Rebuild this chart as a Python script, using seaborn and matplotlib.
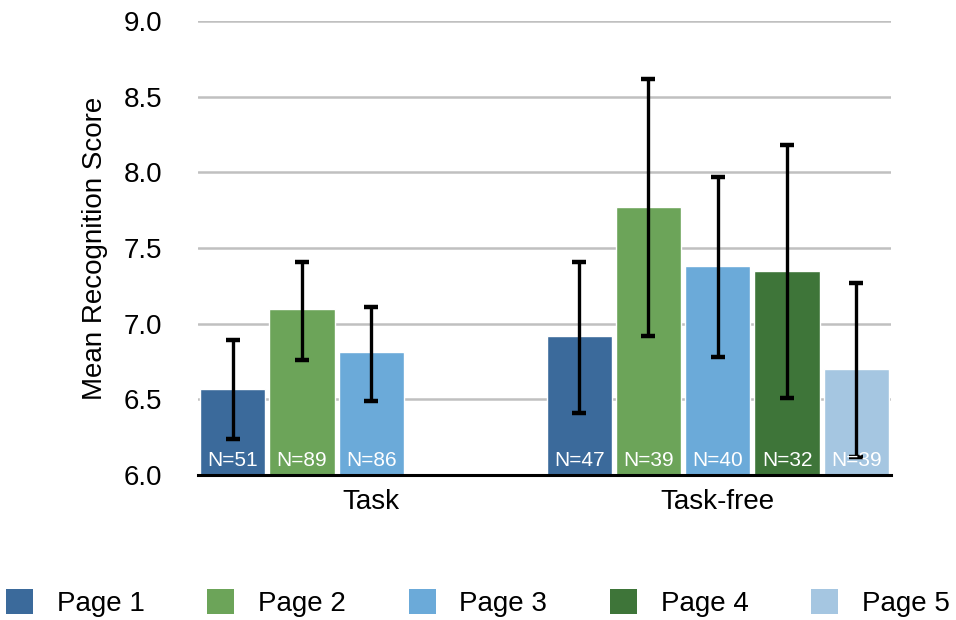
import matplotlib
matplotlib.use("Agg")
import matplotlib.pyplot as plt
import seaborn as sns
import pandas as pd
from matplotlib.patches import Patch

# ---- data ----
groups = ["Task", "Task-free"]
pages = ["Page 1", "Page 2", "Page 3", "Page 4", "Page 5"]
task_means = [6.57, 7.10, 6.81]
task_low = [6.24, 6.76, 6.49]
task_high = [6.89, 7.41, 7.11]
task_n = [51, 89, 86]
free_means = [6.92, 7.77, 7.38, 7.35, 6.70]
free_low = [6.41, 6.92, 6.78, 6.51, 6.12]
free_high = [7.41, 8.62, 7.97, 8.18, 7.27]
free_n = [47, 39, 40, 32, 39]
colors = ["#3B6A9B", "#6CA459", "#6BAAD9", "#3E7539", "#A5C6E1"]
yticks = [6.0, 6.5, 7.0, 7.5, 8.0, 8.5, 9.0]

rows = []
for i, m in enumerate(task_means):
    rows.append(dict(group="Task", page=pages[i], mean=m, low=task_low[i], high=task_high[i], n=task_n[i]))
for i, m in enumerate(free_means):
    rows.append(dict(group="Task-free", page=pages[i], mean=m, low=free_low[i], high=free_high[i], n=free_n[i]))
df = pd.DataFrame(rows)

sns.set_theme(style="white")
plt.rcParams["font.family"] = ["Liberation Sans", "DejaVu Sans"]
plt.rcParams["text.color"] = "black"

fig = plt.figure(figsize=(9.56, 6.2), dpi=100)
ax = fig.add_axes([198 / 956, 1 - 475 / 620, (891 - 198) / 956, (475 - 21) / 620])

sns.barplot(data=df, x="group", y="mean", hue="page", order=groups, hue_order=pages,
            palette=colors, saturation=1, width=1.0, gap=0.06, errorbar=None, legend=False,
            ax=ax, zorder=2)

nh = len(pages)
for _, r in df.iterrows():
    xc = groups.index(r["group"]) + (pages.index(r["page"]) - (nh - 1) / 2) / nh
    ax.errorbar([xc], [r["mean"]], yerr=[[r["mean"] - r["low"]], [r["high"] - r["mean"]]],
                fmt="none", ecolor="black", elinewidth=2.4, capsize=5, capthick=3.2, zorder=4)
    ax.annotate(f"N={r['n']}", xy=(xc, 6.0), xytext=(0, 6.5), textcoords="offset points",
                ha="center", va="baseline", color="white", fontsize=15, zorder=5)

ax.set_ylim(6.0, 9.0)
ax.set_xlim(-0.5, 1.5)
ax.set_yticks(yticks)
ax.set_yticklabels([f"{t:.1f}" for t in yticks])
ax.yaxis.grid(True, color="#c0c0c0", linewidth=1.8, zorder=0)
ax.set_axisbelow(True)
ax.tick_params(axis="y", length=0, pad=26, labelsize=20, colors="black")
ax.tick_params(axis="x", length=0, pad=10, labelsize=20, colors="black")
for s in ["left", "right", "top"]:
    ax.spines[s].set_visible(False)
ax.spines["bottom"].set_color("black")
ax.spines["bottom"].set_linewidth(2.2)
ax.spines["bottom"].set_zorder(6)
ax.set_xlabel("")
ax.set_ylabel("Mean Recognition Score", fontsize=20, labelpad=11, color="black")

handles = [Patch(facecolor=c, edgecolor="none", label=p) for c, p in zip(colors, pages)]
fig.legend(handles=handles, loc="lower center", bbox_to_anchor=(0.5, -0.022), ncol=5,
           frameon=False, fontsize=20, handlelength=0.97, handleheight=0.97,
           handletextpad=0.86, columnspacing=2.25, borderpad=0.1, labelcolor="black")

fig.savefig("out.png", dpi=100)
